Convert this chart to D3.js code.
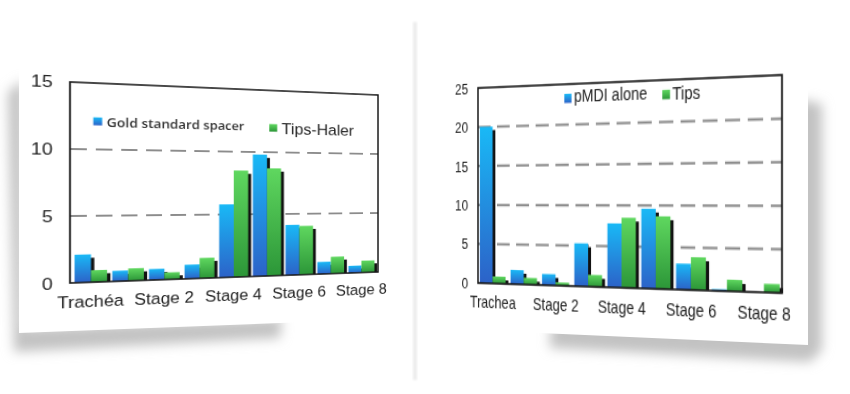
<!DOCTYPE html>
<html><head><meta charset="utf-8">
<script src="https://cdn.jsdelivr.net/npm/d3@7"></script>
<style>
html,body{margin:0;padding:0;background:#fff;width:850px;height:394px;overflow:hidden;position:relative;}
svg{position:absolute;left:0;top:0;overflow:visible;}
svg.chart{transform-origin:0 0;}
</style></head><body>
<script>
// ---------- data ----------
const leftCategories = ["Trachéa","Stage 1","Stage 2","Stage 3","Stage 4","Stage 5","Stage 6","Stage 7","Stage 8"];
const leftSeriesNames = ["Gold standard spacer","Tips-Haler"];
const leftGold = [2.1, 0.8, 0.85, 1.1, 5.8, 9.8, 4.1, 1.0, 0.6];
const leftTips = [0.9, 0.95, 0.55, 1.6, 8.5, 8.7, 4.0, 1.4, 1.0];
const leftYTicks = [0, 5, 10, 15];
const leftGrid = [5, 10];

const rightCategories = ["Trachea","Stage 1","Stage 2","Stage 3","Stage 4","Stage 5","Stage 6","Stage 7","Stage 8"];
const rightSeriesNames = ["pMDI alone","Tips"];
const rightPmdi = [20.0, 1.8, 1.4, 5.3, 7.8, 9.6, 3.1, 0.2, 0];
const rightTips = [0.9, 0.85, 0.4, 1.45, 8.5, 8.7, 3.9, 1.35, 1.0];
const rightYTicks = [0, 5, 10, 15, 20, 25];
const rightGrid = [5, 10, 15, 20];

// ---------- projective helpers ----------
function solve(A, b) {
  const n = b.length;
  const M = A.map((r, i) => [...r, b[i]]);
  for (let c = 0; c < n; c++) {
    let p = c;
    for (let r = c + 1; r < n; r++) if (Math.abs(M[r][c]) > Math.abs(M[p][c])) p = r;
    [M[c], M[p]] = [M[p], M[c]];
    for (let r = 0; r < n; r++) {
      if (r === c) continue;
      const f = M[r][c] / M[c][c];
      for (let k = c; k <= n; k++) M[r][k] -= f * M[c][k];
    }
  }
  return M.map((r, i) => r[n] / r[i]);
}
function homography(src, dst) {
  const A = [], b = [];
  for (let i = 0; i < 4; i++) {
    const [x, y] = src[i], [u, v] = dst[i];
    A.push([x, y, 1, 0, 0, 0, -x * u, -y * u]); b.push(u);
    A.push([0, 0, 0, x, y, 1, -x * v, -y * v]); b.push(v);
  }
  return solve(A, b);
}
function applyH(h, [x, y]) {
  const w = h[6] * x + h[7] * y + 1;
  return [(h[0] * x + h[1] * y + h[2]) / w, (h[3] * x + h[4] * y + h[5]) / w];
}

// ---------- background cards ----------
const bg = d3.select("body").append("svg").attr("width", 850).attr("height", 394);
const bdefs = bg.append("defs");
bdefs.append("filter").attr("id", "blur").attr("x", "-20%").attr("y", "-20%").attr("width", "140%").attr("height", "140%")
  .append("feGaussianBlur").attr("stdDeviation", 6);
bdefs.append("filter").attr("id", "blur2").append("feGaussianBlur").attr("stdDeviation", 1.2);
// divider
bg.append("rect").attr("x", 413).attr("y", 22).attr("width", 4).attr("height", 358).attr("fill", "#ededed").attr("filter", "url(#blur2)");
// left card shadow + card
bg.append("polygon").attr("points", "8,92 24,80 24,328 282,318 280,338 14,352").attr("fill", "#c2c2c2").attr("filter", "url(#blur)");
bg.append("polygon").attr("points", "19,40 410,30 410,318 280,323 19,333").attr("fill", "#fff");
// right card shadow + card
bg.append("polygon").attr("points", "550,330 802,100 822,104 822,350 810,362 550,348").attr("fill", "#c2c2c2").attr("filter", "url(#blur)");
bg.append("polygon").attr("points", "425,50 808,60 808,345 540,333 425,330").attr("fill", "#fff");

// ---------- chart ----------
function drawChart(cfg) {
  const m = cfg.margin, W = cfg.W, H = cfg.H;
  const svg = d3.select("body").append("svg").attr("class", "chart")
    .attr("width", m.left + W + m.right).attr("height", m.top + H + m.bottom);
  const src = [[m.left, m.top], [m.left + W, m.top], [m.left + W, m.top + H], [m.left, m.top + H]];
  const h = homography(src, cfg.quad);
  const hinv = homography(cfg.quad, src);
  svg.style("transform", `matrix3d(${h[0]},${h[3]},0,${h[6]},${h[1]},${h[4]},0,${h[7]},0,0,1,0,${h[2]},${h[5]},0,1)`);

  const defs = svg.append("defs");
  const grads = [
    { id: cfg.id + "-g0", top: "#19b9f6", bot: "#2c62c8" },
    { id: cfg.id + "-g1", top: "#5fd75f", bot: "#2c9638" }
  ];
  grads.forEach(gd => {
    const lg = defs.append("linearGradient").attr("id", gd.id).attr("x1", 0).attr("y1", 0).attr("x2", 0).attr("y2", 1);
    lg.append("stop").attr("offset", "0%").attr("stop-color", gd.top);
    lg.append("stop").attr("offset", "100%").attr("stop-color", gd.bot);
  });

  const g = svg.append("g").attr("transform", `translate(${m.left},${m.top})`);
  const x0 = d3.scaleBand().domain(cfg.categories).range([0, W]).paddingInner(cfg.pi).paddingOuter(cfg.po);
  const x1 = d3.scaleBand().domain(d3.range(cfg.series.length)).range([0, x0.bandwidth()]);
  const y = d3.scaleLinear().domain([0, d3.max(cfg.yTicks)]).range([H, 0]);

  g.append("rect").attr("width", W).attr("height", H).attr("fill", "#fff");

  // gridlines
  g.append("g").selectAll("line").data(cfg.grid).join("line")
    .attr("x1", 0).attr("x2", W).attr("y1", d => y(d)).attr("y2", d => y(d))
    .attr("stroke", "#8c8c8c").attr("stroke-width", 2).attr("stroke-dasharray", cfg.dash);

  const flat = [];
  cfg.categories.forEach((c, i) => cfg.series.forEach((s, si) => flat.push({ c, si, v: s[i] })));
  const bars = flat.filter(d => d.v > 0);

  // shadows
  g.append("g").selectAll("rect").data(bars).join("rect")
    .attr("x", d => x0(d.c) + x1(d.si) + cfg.sdx)
    .attr("y", d => y(d.v) + cfg.sdy)
    .attr("width", x1.bandwidth())
    .attr("height", d => Math.max(0, H - y(d.v) - cfg.sdy))
    .attr("fill", "#111");
  // bars
  g.append("g").selectAll("rect").data(bars).join("rect")
    .attr("x", d => x0(d.c) + x1(d.si))
    .attr("y", d => y(d.v))
    .attr("width", x1.bandwidth())
    .attr("height", d => H - y(d.v))
    .attr("fill", d => `url(#${grads[d.si].id})`);

  // frame
  g.append("rect").attr("width", W).attr("height", H).attr("fill", "none")
    .attr("stroke", "#1a1a1a").attr("stroke-width", 1.6);

  // y axis
  const ya = g.append("g").call(d3.axisLeft(y).tickValues(cfg.yTicks).tickSize(0).tickPadding(cfg.yPad));
  ya.select(".domain").remove();
  ya.attr("font-family", "'Liberation Sans', Arial, sans-serif").attr("font-size", cfg.yFont);
  ya.selectAll("text").attr("fill", "#222");

  // x axis
  const xa = g.append("g").attr("transform", `translate(0,${H})`)
    .call(d3.axisBottom(x0).tickValues(cfg.categories.filter((d, i) => i % 2 === 0)).tickSize(0).tickPadding(cfg.xPad));
  xa.select(".domain").remove();
  xa.attr("font-family", "'Liberation Sans', Arial, sans-serif").attr("font-size", cfg.xFont);
  xa.selectAll("text").attr("fill", "#222");

  // legend (positions given on the page, mapped back into chart space)
  cfg.legend.forEach((it, si) => {
    const sq = applyH(hinv, it.square);
    svg.append("rect").attr("x", sq[0]).attr("y", sq[1]).attr("width", it.size).attr("height", it.size)
      .attr("fill", `url(#${grads[si].id})`);
    const tp = applyH(hinv, it.text);
    svg.append("text").attr("x", tp[0]).attr("y", tp[1]).text(cfg.names[si])
      .attr("font-family", it.family).attr("font-weight", it.weight || 400)
      .attr("font-size", it.fontSize).attr("fill", it.color || "#222");
  });
}

drawChart({
  id: "L",
  categories: leftCategories,
  series: [leftGold, leftTips],
  names: leftSeriesNames,
  yTicks: leftYTicks,
  grid: leftGrid,
  margin: { left: 60, top: 30, right: 40, bottom: 50 },
  W: 308, H: 201,
  quad: [[70, 82], [378, 95], [378, 272], [70, 283]],
  pi: 0.14, po: 0.12,
  sdx: 3, sdy: 3.5,
  dash: "15,8",
  yPad: 15, yFont: 17,
  xPad: 13, xFont: 16.5,
  legend: [
    { square: [93.3, 117.3], size: 8, text: [106.7, 127.3], family: "'Open Sans', sans-serif", weight: 600, fontSize: 12.8, color: "#333" },
    { square: [269.3, 124], size: 8.2, text: [281.7, 134], family: "'Liberation Sans', Arial, sans-serif", fontSize: 17, color: "#222" }
  ]
});

drawChart({
  id: "R",
  categories: rightCategories,
  series: [rightPmdi, rightTips],
  names: rightSeriesNames,
  yTicks: rightYTicks,
  grid: rightGrid,
  margin: { left: 45, top: 30, right: 40, bottom: 45 },
  W: 304, H: 167,
  quad: [[478, 88], [782, 75], [782, 293], [478, 283]],
  pi: 0.16, po: 0.06,
  sdx: 3, sdy: 3,
  dash: "14,7",
  yPad: 11, yFont: 13.5,
  xPad: 11, xFont: 14,
  legend: [
    { square: [564.3, 94], size: 7.5, text: [574, 101.5], family: "'Liberation Sans', Arial, sans-serif", fontSize: 14.5, color: "#222" },
    { square: [662.3, 90], size: 7.5, text: [672.3, 99.3], family: "'Liberation Sans', Arial, sans-serif", fontSize: 14.5, color: "#222" }
  ]
});
</script>
</body></html>
